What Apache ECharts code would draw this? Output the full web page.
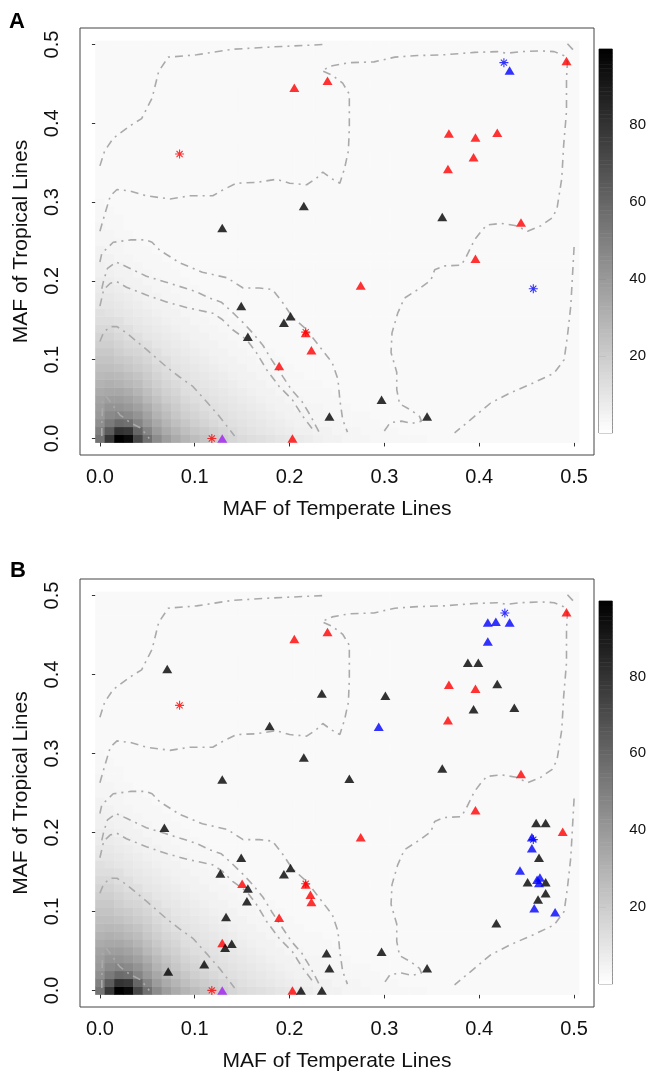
<!DOCTYPE html>
<html><head><meta charset="utf-8">
<script src="https://cdn.jsdelivr.net/npm/echarts@6/dist/echarts.min.js"></script>
<style>html,body{margin:0;padding:0;background:#fff}#c{width:649px;height:1077px}</style>
</head><body><div id="c"></div>
<script>
// ---------- data ----------
const xTicks = [0, 0.1, 0.2, 0.3, 0.4, 0.5];
const yTicks = [0, 0.1, 0.2, 0.3, 0.4, 0.5];
const colorbarTicks = [20, 40, 60, 80];
const densityMax = 99.6;
const gridStep = 0.01;
const gridCount = 51;
const backgroundLevel = 2.5;
// density (0-100) read row by row: rows y = 0.00, 0.01, ...; columns x = 0.00, 0.01, ...
const densityRows = [
 [55,78,100,96,72,56,45,38,33,29,26,23,20,18,16,14,13,12,11,10,9,8,7,6,5,5,4,4,4,3,3,3,3,3,3],
 [50,64,80,78,60,48,39,33,29,25,22,20,18,16,14,12,11,10,9,8,7,6,6,5,5,4,4,4,3,3,3,3],
 [44,52,58,56,48,40,34,29,25,22,19,17,15,13,12,11,10,9,8,7,6,5,5,4,4,4,3,3,3,3],
 [40,46,48,46,42,36,30,26,22,19,17,15,13,12,11,10,9,8,7,6,5,5,4,4,4,3,3,3,3],
 [38,42,42,40,37,32,27,23,20,17,15,13,12,11,10,9,8,7,6,5,5,4,4,4,3,3,3],
 [36,38,38,36,33,28,24,20,18,15,13,12,11,10,9,8,7,6,5,5,4,4,3,3,3,3],
 [33,34,34,32,29,25,21,18,16,13,12,11,10,9,8,7,6,5,5,4,4,3,3,3,3],
 [30,31,30,28,26,22,19,16,14,12,11,10,9,8,7,6,5,5,4,4,3,3,3,3],
 [27,28,27,25,23,20,17,14,12,11,10,9,8,7,6,5,5,4,4,3,3,3],
 [25,25,24,22,20,18,15,13,11,10,9,8,7,6,5,5,4,4,3,3,3],
 [23,23,21,20,18,16,13,12,10,9,8,7,6,5,5,4,4,3,3,3],
 [21,21,19,17,16,14,12,10,9,8,7,6,5,5,4,4,3,3,3],
 [19,19,17,15,14,12,10,9,8,7,6,5,5,4,4,3,3,3],
 [17,17,15,13,12,10,9,8,7,6,5,5,4,4,3,3,3],
 [15,15,13,12,10,9,8,7,6,5,5,4,4,3,3,3],
 [13,13,12,10,9,8,7,6,5,5,4,4,3,3,3],
 [12,11,10,9,8,7,6,5,5,4,4,3,3,3],
 [10,10,9,8,7,6,5,5,4,4,3,3,3],
 [9,9,8,7,6,5,5,4,4,3,3,3],
 [8,8,7,6,5,5,4,4,3,3,3],
 [7,7,6,5,5,4,4,3,3,3],
 [6,6,5,5,4,4,3,3,3],
 [6,5,5,4,4,3,3,3],
 [5,5,4,4,3,3,3],
 [5,4,4,3,3,3],
 [4,4,4,3,3],
 [4,4,3,3],
 [4,3,3],
 [3,3,3],
 [3,3],
 [3]
];

// contour lines (dot-dash)
const contourOuterLeft = [[0.000,0.346],[0.005,0.365],[0.014,0.381],[0.032,0.397],[0.044,0.406],[0.055,0.432],[0.062,0.466],[0.072,0.484],[0.102,0.487],[0.140,0.494],[0.182,0.497],[0.235,0.500]];
const contourOuterCorner = [[0.493,0.501],[0.500,0.492]];
const contourOuterRight = [[0.500,0.243],[0.498,0.200],[0.4965,0.168],[0.493,0.130],[0.4895,0.100],[0.479,0.083],[0.458,0.071],[0.433,0.058],[0.412,0.045],[0.395,0.028],[0.374,0.007]];
const contour2 = [[0.000,0.263],[0.005,0.284],[0.011,0.308],[0.018,0.316],[0.032,0.314],[0.049,0.308],[0.074,0.304],[0.095,0.308],[0.119,0.308],[0.129,0.315],[0.144,0.324],[0.165,0.325],[0.186,0.329],[0.200,0.324],[0.218,0.322],[0.228,0.330],[0.235,0.338],[0.244,0.330],[0.253,0.324],[0.258,0.343],[0.262,0.365],[0.263,0.394],[0.263,0.415],[0.263,0.437],[0.256,0.451],[0.245,0.461],[0.234,0.467],[0.245,0.473],[0.263,0.477],[0.289,0.478],[0.311,0.484],[0.335,0.486],[0.363,0.487],[0.395,0.490],[0.419,0.491],[0.429,0.489],[0.444,0.491],[0.465,0.492],[0.479,0.491],[0.489,0.486],[0.493,0.478],[0.492,0.457],[0.492,0.415],[0.489,0.372],[0.487,0.330],[0.482,0.292],[0.477,0.280],[0.465,0.270],[0.451,0.263],[0.439,0.270],[0.423,0.273],[0.408,0.271],[0.402,0.263],[0.395,0.252],[0.386,0.230],[0.381,0.220],[0.363,0.219],[0.353,0.214],[0.349,0.201],[0.339,0.192],[0.321,0.178],[0.314,0.159],[0.308,0.134],[0.307,0.109],[0.313,0.084],[0.313,0.062],[0.316,0.044],[0.328,0.036],[0.337,0.028],[0.339,0.022],[0.329,0.019],[0.318,0.022],[0.306,0.020],[0.299,0.008]];
const contour3 = [[0.000,0.224],[0.002,0.235],[0.014,0.249],[0.032,0.252],[0.049,0.252],[0.055,0.249],[0.063,0.239],[0.084,0.223],[0.108,0.211],[0.134,0.204],[0.151,0.191],[0.168,0.191],[0.182,0.189],[0.193,0.172],[0.203,0.154],[0.218,0.138],[0.232,0.116],[0.245,0.096],[0.251,0.075],[0.253,0.049],[0.256,0.024],[0.261,0.008]];
const contour4 = [[0.002,0.190],[0.004,0.201],[0.008,0.216],[0.017,0.224],[0.028,0.218],[0.049,0.206],[0.068,0.199],[0.092,0.190],[0.102,0.186],[0.116,0.178],[0.128,0.173],[0.139,0.161],[0.151,0.147],[0.161,0.134],[0.172,0.118],[0.181,0.100],[0.192,0.080],[0.202,0.062],[0.213,0.047],[0.222,0.029],[0.232,0.006]];
const contour5 = [[0.000,0.168],[0.004,0.189],[0.011,0.197],[0.018,0.199],[0.028,0.192],[0.049,0.182],[0.071,0.173],[0.092,0.166],[0.119,0.159],[0.129,0.151],[0.140,0.138],[0.155,0.125],[0.165,0.109],[0.176,0.087],[0.189,0.066],[0.203,0.049],[0.214,0.028],[0.226,0.009]];
const contour6 = [[0.000,0.123],[0.004,0.135],[0.011,0.142],[0.018,0.142],[0.028,0.134],[0.049,0.113],[0.071,0.090],[0.084,0.078],[0.098,0.066],[0.113,0.046],[0.126,0.028],[0.137,0.011],[0.142,0.003]];
const contour7 = [[0.002,0.003],[0.002,0.018],[0.003,0.049],[0.007,0.053],[0.013,0.043],[0.021,0.030],[0.032,0.020],[0.042,0.014],[0.049,0.005],[0.052,0.000]];

// points, panel A
const aRedTriangles = [[0.205,0.445],[0.240,0.454],[0.492,0.479],[0.368,0.387],[0.396,0.382],[0.419,0.388],[0.394,0.357],[0.367,0.342],[0.444,0.274],[0.396,0.228],[0.275,0.194],[0.223,0.112],[0.189,0.092],[0.203,0.000],[0.217,0.134]];
const aBlackTriangles = [[0.215,0.295],[0.129,0.267],[0.361,0.281],[0.297,0.049],[0.345,0.028],[0.149,0.168],[0.201,0.155],[0.194,0.147],[0.156,0.129],[0.242,0.028]];
const aBlueTriangles = [[0.432,0.467]];
const aPurpleTriangles = [[0.129,0.000]];
const aRedStars = [[0.084,0.361],[0.217,0.135],[0.118,0.000]];
const aBlueStars = [[0.426,0.477],[0.457,0.190]];

// points, panel B
const bRedTriangles = [[0.205,0.445],[0.240,0.454],[0.492,0.479],[0.368,0.387],[0.396,0.382],[0.367,0.342],[0.444,0.274],[0.396,0.228],[0.275,0.194],[0.223,0.112],[0.189,0.092],[0.203,0.000],[0.217,0.134],[0.488,0.201],[0.150,0.135],[0.222,0.121],[0.129,0.060]];
const bBlackTriangles = [[0.215,0.295],[0.129,0.267],[0.361,0.281],[0.297,0.049],[0.345,0.028],[0.149,0.168],[0.201,0.155],[0.194,0.147],[0.156,0.129],[0.242,0.028],
 [0.071,0.407],[0.234,0.376],[0.179,0.335],[0.388,0.415],[0.399,0.415],[0.419,0.388],[0.301,0.373],[0.394,0.356],[0.437,0.358],[0.263,0.268],
 [0.460,0.212],[0.470,0.212],[0.463,0.168],[0.451,0.137],[0.470,0.137],[0.470,0.123],[0.462,0.115],[0.418,0.085],[0.239,0.047],[0.212,0.000],[0.234,0.000],
 [0.068,0.206],[0.127,0.148],[0.155,0.113],[0.133,0.093],[0.139,0.059],[0.132,0.054],[0.110,0.033],[0.072,0.024]];
const bBlueTriangles = [[0.432,0.466],[0.409,0.466],[0.4175,0.467],[0.409,0.442],[0.294,0.334],[0.4555,0.194],[0.4555,0.180],[0.443,0.152],[0.461,0.140],[0.463,0.136],[0.464,0.143],[0.458,0.104],[0.480,0.099]];
const bPurpleTriangles = [[0.129,0.000]];
const bRedStars = [[0.084,0.361],[0.217,0.135],[0.118,0.000]];
const bBlueStars = [[0.427,0.478],[0.457,0.191]];

// ---------- build ----------
const FONT = "'Liberation Sans', Arial, Helvetica, sans-serif";
const densityCells = [];
for (let i = 0; i < gridCount; i++) {
  for (let j = 0; j < gridCount; j++) {
    const row = densityRows[i];
    const v = (row && row[j] !== undefined) ? row[j] : backgroundLevel;
    densityCells.push([j * gridStep, i * gridStep, v]);
  }
}
const colorbarBands = [];
for (let k = 0; k < 100; k++) {
  const lo = k * densityMax / 100, hi = (k + 1) * densityMax / 100;
  colorbarBands.push([lo, hi, (lo + hi) / 2]);
}

const contours = [contourOuterLeft, contourOuterCorner, contourOuterRight, contour2, contour3, contour4, contour5, contour6, contour7];
const STAR = 'path://M5,0L5,10M0,5L10,5M1.6,1.6L8.4,8.4M1.6,8.4L8.4,1.6';

const series = [];
const colorSeriesIdx = [];
function renderCell(params, api) {
  const x = api.value(0), y = api.value(1), h = gridStep / 2;
  const a = api.coord([x - h, y + h]);
  const b = api.coord([x + h, y - h]);
  return { type: 'rect', shape: { x: a[0], y: a[1], width: b[0] - a[0] + 0.5, height: b[1] - a[1] + 0.5 }, style: { fill: api.visual('color') } };
}
function renderBand(params, api) {
  const a = api.coord([0, api.value(1)]);
  const b = api.coord([1, api.value(0)]);
  return { type: 'rect', shape: { x: a[0], y: a[1], width: b[0] - a[0], height: b[1] - a[1] + 0.5 }, style: { fill: api.visual('color') } };
}
function tri(idx, data, color) {
  return { type: 'scatter', xAxisIndex: idx, yAxisIndex: idx, data, symbol: 'triangle', symbolSize: [10, 8.5], itemStyle: { color }, silent: true, z: 4 };
}
function star(idx, data, color) {
  return { type: 'scatter', xAxisIndex: idx, yAxisIndex: idx, data, symbol: STAR, symbolSize: 9, itemStyle: { color: 'rgba(0,0,0,0)', borderColor: color, borderWidth: 1.1 }, silent: true, z: 5 };
}
function addPanel(idx, pts) {
  colorSeriesIdx.push(series.length);
  series.push({ type: 'custom', xAxisIndex: idx, yAxisIndex: idx, data: densityCells, renderItem: renderCell, silent: true, z: 1 });
  contours.forEach(c => series.push({ type: 'line', xAxisIndex: idx, yAxisIndex: idx, data: c, showSymbol: false, silent: true, z: 3,
    lineStyle: { color: '#aaaaaa', width: 1.6, type: [8, 5, 2, 5] } }));
  series.push(tri(idx, pts.red, '#ff0000'));
  series.push(tri(idx, pts.black, '#000000'));
  series.push(tri(idx, pts.blue, '#0000ff'));
  series.push(tri(idx, pts.purple, '#a020f0'));
  series.push(star(idx, pts.redStar, '#ff0000'));
  series.push(star(idx, pts.blueStar, '#0000ff'));
  colorSeriesIdx.push(series.length);
  series.push({ type: 'custom', xAxisIndex: idx + 2, yAxisIndex: idx + 2, data: colorbarBands, renderItem: renderBand, silent: true, z: 1 });
}
addPanel(0, { red: aRedTriangles, black: aBlackTriangles, blue: aBlueTriangles, purple: aPurpleTriangles, redStar: aRedStars, blueStar: aBlueStars });
addPanel(1, { red: bRedTriangles, black: bBlackTriangles, blue: bBlueTriangles, purple: bPurpleTriangles, redStar: bRedStars, blueStar: bBlueStars });

const plotGrids = [{ left: 80, top: 28, width: 514, height: 427 }, { left: 80, top: 579, width: 514, height: 428 }];
const barGrids = [{ left: 599, top: 49, width: 16, height: 384 }, { left: 599, top: 601, width: 16, height: 383 }];
const grids = plotGrids.concat(barGrids).map(g => Object.assign({ show: true, borderColor: '#444', borderWidth: 1, backgroundColor: 'rgba(0,0,0,0)' }, g));

const fmt = v => v.toFixed(1);
const xAxes = [], yAxes = [];
for (let i = 0; i < 2; i++) {
  xAxes.push({ type: 'value', gridIndex: i, min: -0.021, max: 0.521, axisLine: { show: false }, splitLine: { show: false },
    axisTick: { show: true, customValues: xTicks, length: 8, lineStyle: { color: '#333', width: 1 } },
    axisLabel: { customValues: xTicks, formatter: fmt, fontSize: 20, color: '#111', margin: 12, fontFamily: FONT },
    name: 'MAF of Temperate Lines', nameLocation: 'middle', nameGap: 44, nameTextStyle: { fontSize: 21, color: '#111', fontFamily: FONT } });
  yAxes.push({ type: 'value', gridIndex: i, min: -0.021, max: 0.521, axisLine: { show: false }, splitLine: { show: false },
    axisTick: { show: true, customValues: yTicks, length: 8, lineStyle: { color: '#333', width: 1 } },
    axisLabel: { customValues: yTicks, formatter: fmt, fontSize: 20, color: '#111', margin: 18, rotate: 90, fontFamily: FONT },
    name: 'MAF of Tropical Lines', nameLocation: 'middle', nameGap: 48, nameTextStyle: { fontSize: 21, color: '#111', fontFamily: FONT } });
}
for (let i = 0; i < 2; i++) {
  xAxes.push({ type: 'value', gridIndex: 2 + i, min: 0, max: 1, show: false });
  yAxes.push({ type: 'value', gridIndex: 2 + i, min: 0, max: densityMax, position: 'right', axisLine: { show: false }, splitLine: { show: false },
    axisTick: { show: true, customValues: colorbarTicks, length: 7, lineStyle: { color: '#333' } },
    axisLabel: { customValues: colorbarTicks, fontSize: 15, color: '#111', margin: 17, fontFamily: FONT } });
}

const chart = echarts.init(document.getElementById('c'), null, { renderer: 'canvas' });
chart.setOption({
  animation: false,
  backgroundColor: '#ffffff',
  grid: grids,
  xAxis: xAxes,
  yAxis: yAxes,
  visualMap: { type: 'continuous', show: false, min: 0, max: 100, dimension: 2, seriesIndex: colorSeriesIdx, inRange: { color: ['#ffffff', '#000000'] } },
  graphic: [
    { type: 'text', left: 9, top: 11, style: { text: 'A', font: 'bold 22px ' + FONT, fill: '#000' } },
    { type: 'text', left: 10, top: 560, style: { text: 'B', font: 'bold 22px ' + FONT, fill: '#000' } }
  ],
  series
});
</script></body></html>
